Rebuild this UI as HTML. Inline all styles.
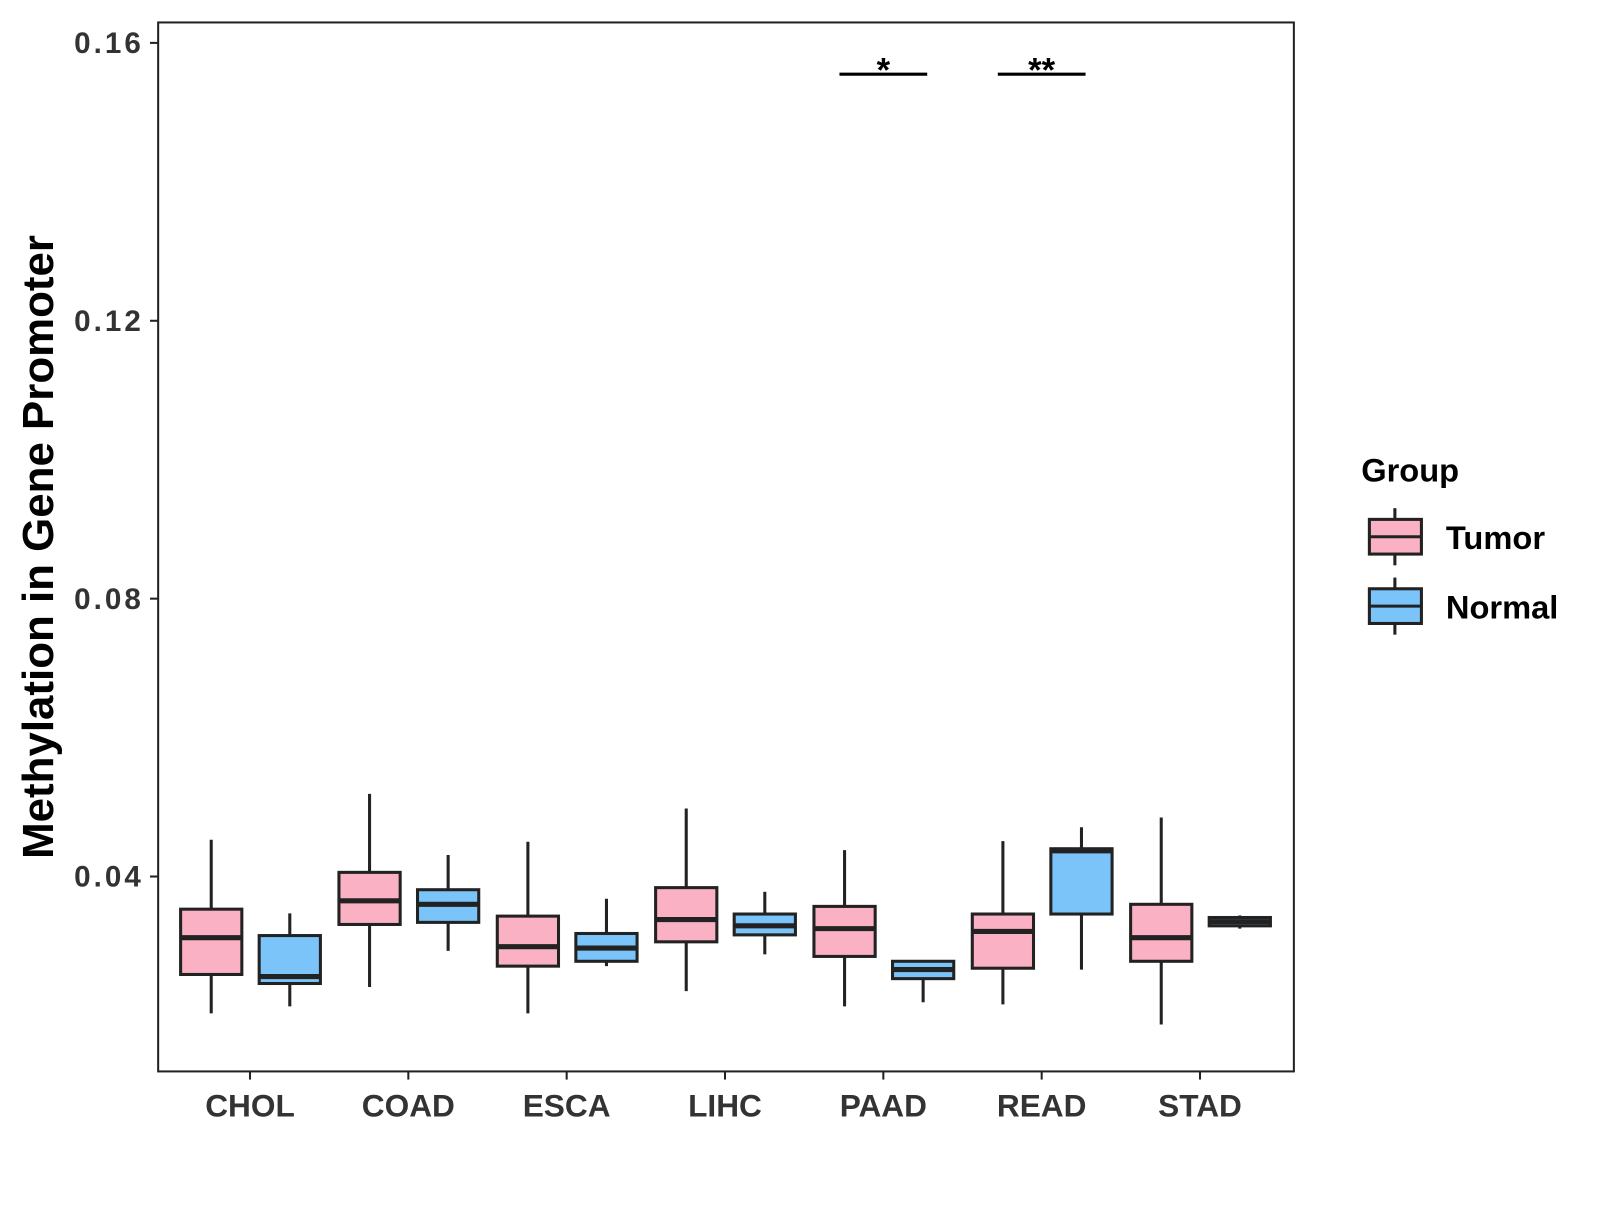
<!DOCTYPE html>
<html><head><meta charset="utf-8"><style>
body{margin:0;background:#fff;width:1600px;height:1200px;overflow:hidden}
text{font-family:"Liberation Sans",Arial,sans-serif;font-weight:bold}
</style></head><body>
<svg id="chart" width="1600" height="1200">
<g transform="scale(1.0204)">
<rect x="155" y="22" width="1113" height="1028" fill="#fff" stroke="#222" stroke-width="2"/>
<g id="yaxis"></g>
<g id="xaxis"></g>
<g id="boxes"></g>
<g id="sig"></g>
<text x="52" y="536" font-size="43" fill="#000" text-anchor="middle" transform="rotate(-90 52 536)">Methylation in Gene Promoter</text>
<g>
<text x="1334" y="472" font-size="32" fill="#000">Group</text>
<g>
<line x1="1367" y1="498" x2="1367" y2="554" stroke="#222" stroke-width="3"/>
<rect x="1342" y="509" width="51" height="34" fill="#FBB1C4" stroke="#222" stroke-width="3"/>
<line x1="1342" y1="526" x2="1393" y2="526" stroke="#222" stroke-width="3"/>
<text x="1417" y="538" font-size="32" fill="#000">Tumor</text></g>
<g>
<line x1="1367" y1="566" x2="1367" y2="622" stroke="#222" stroke-width="3"/>
<rect x="1342" y="577" width="51" height="34" fill="#7AC4F9" stroke="#222" stroke-width="3"/>
<line x1="1342" y1="594" x2="1393" y2="594" stroke="#222" stroke-width="3"/>
<text x="1417" y="606" font-size="32" fill="#000">Normal</text></g>
</g>
</g>
</svg>
<script>
const categories=["CHOL","COAD","ESCA","LIHC","PAAD","READ","STAD"];
// [whiskerLow, q1, median, q3, whiskerHigh]
const tumorStats=[[0.0203,0.0259,0.0312,0.0353,0.0453],[0.0241,0.0331,0.0365,0.0406,0.0519],[0.0203,0.0271,0.0299,0.0343,0.0450],[0.0235,0.0306,0.0338,0.0384,0.0498],[0.0213,0.0285,0.0325,0.0357,0.0438],[0.0216,0.0268,0.0321,0.0346,0.0451],[0.0187,0.0278,0.0312,0.0360,0.0485]];
const normalStats=[[0.0213,0.0246,0.0256,0.0315,0.0347],[0.0293,0.0334,0.0360,0.0381,0.0431],[0.0271,0.0278,0.0297,0.0318,0.0368],[0.0288,0.0316,0.0329,0.0346,0.0378],[0.0219,0.0253,0.0266,0.0278,0.0278],[0.0266,0.0346,0.0437,0.0440,0.0471],[0.0325,0.0329,0.0335,0.0341,0.0344]];
const yTicks=[0.04,0.08,0.12,0.16];
const sigCats=["PAAD","READ"];
const sigLabels=["*","**"];
const sigLevel=0.1555;
const NS="http://www.w3.org/2000/svg";
function y(v){return 859-(v-0.04)*6808;}
function x(i){return 245+i*155.17;}
function mk(tag,attrs,parent){const e=document.createElementNS(NS,tag);for(const k in attrs)e.setAttribute(k,attrs[k]);parent.appendChild(e);return e;}
const ya=document.getElementById('yaxis'),xa=document.getElementById('xaxis'),bx=document.getElementById('boxes'),sg=document.getElementById('sig');
yTicks.forEach(t=>{
 const l=mk('line',{x1:147,x2:155,y1:y(t),y2:y(t),stroke:'#222','stroke-width':2},ya);
 
 
 const tx=mk('text',{x:141,y:y(t)+10,'font-size':29,fill:'#333','text-anchor':'end','letter-spacing':3},ya);
 tx.textContent=t.toFixed(2);
 
 
});
categories.forEach((c,i)=>{
 const l=mk('line',{x1:x(i),x2:x(i),y1:1050,y2:1058,stroke:'#222','stroke-width':2},xa);
 
 
 const tx=mk('text',{x:x(i),y:1094,'font-size':31,fill:'#333','text-anchor':'middle'},xa);
 tx.textContent=c;
 
 
});
function box(s,cx,fill,name){
 const g=mk('g',{},bx);
 
 
 const w=60;
 mk('line',{x1:cx,x2:cx,y1:y(s[0]),y2:y(s[4]),stroke:'#222','stroke-width':3},g);
 mk('rect',{x:cx-w/2,y:y(s[3]),width:w,height:Math.max(y(s[1])-y(s[3]),1),fill:fill,stroke:'#222','stroke-width':3},g);
 mk('line',{x1:cx-w/2,x2:cx+w/2,y1:y(s[2]),y2:y(s[2]),stroke:'#222','stroke-width':5},g);
}
categories.forEach((c,i)=>{
 box(tumorStats[i],x(i)-38,'#FBB1C4','box-tumor-'+c.toLowerCase());
 box(normalStats[i],x(i)+39,'#7AC4F9','box-normal-'+c.toLowerCase());
});
sigCats.forEach((c,k)=>{
 const i=categories.indexOf(c);
 const l=mk('line',{x1:x(i)-43,x2:x(i)+43,y1:y(sigLevel),y2:y(sigLevel),stroke:'#000','stroke-width':3},sg);
 
 
 const t=mk('text',{x:x(i),y:y(sigLevel)+7,'font-size':34,fill:'#000','text-anchor':'middle'},sg);
 t.textContent=sigLabels[k];
 
 
});
</script>
</body></html>
